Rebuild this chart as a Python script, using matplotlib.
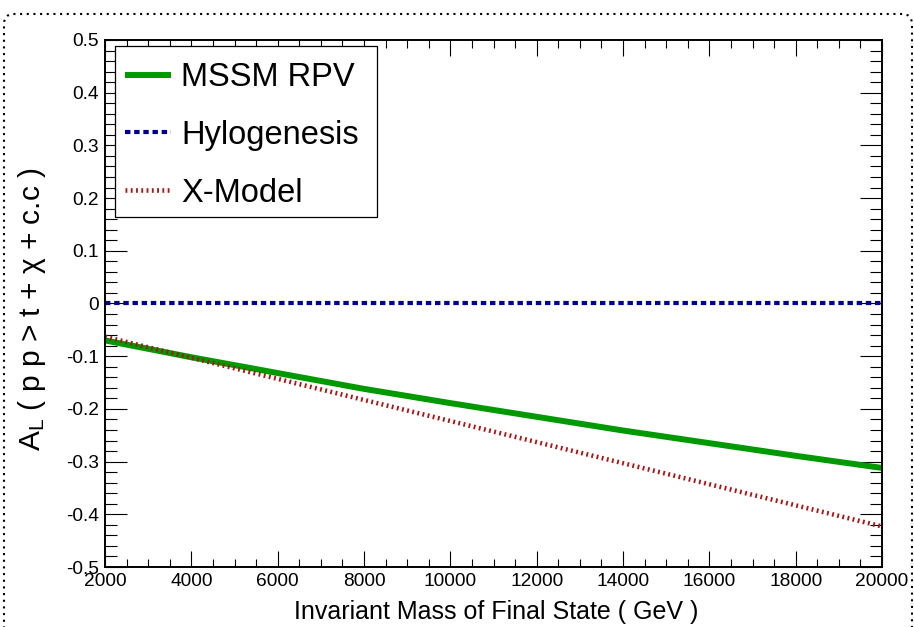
import numpy as np
import matplotlib
matplotlib.use("Agg")
import matplotlib.pyplot as plt
from matplotlib.patches import FancyBboxPatch, Rectangle
from matplotlib.transforms import IdentityTransform
from matplotlib.ticker import MultipleLocator

plt.rcParams['font.family'] = ['Liberation Sans', 'DejaVu Sans']
plt.rcParams['mathtext.default'] = 'regular'

# invariant mass (GeV)
mass = [2000, 4000, 6000, 8000, 10000, 12000, 14000, 16000, 18000, 20000]
# A_L
mssm_rpv = [-0.070, -0.102, -0.132, -0.162, -0.189, -0.215, -0.241, -0.265, -0.289, -0.312]
hylogenesis = [0.0, 0.0, 0.0, 0.0, 0.0, 0.0, 0.0, 0.0, 0.0, 0.0]
x_model = [-0.063, -0.103, -0.143, -0.183, -0.223, -0.263, -0.303, -0.343, -0.383, -0.423]

W, H = 914, 627
fig = plt.figure(figsize=(W / 100, H / 100), dpi=100)
ax = fig.add_axes([105 / W, 1 - 567 / H, 777 / W, 527 / H])

ax.plot(mass, mssm_rpv, color='#009a00', lw=4.3, solid_capstyle='butt', label='MSSM RPV')
ax.plot(mass, hylogenesis, color='#000099', lw=3.0, dashes=(1.3, 0.9),
        dash_capstyle='butt', label='Hylogenesis')
ax.plot(mass, x_model, color='#aa1414', lw=3.3, dashes=(0.4, 0.75),
        dash_capstyle='butt', label='X-Model')

ax.set_xlim(2000, 20000)
ax.set_ylim(-0.5, 0.5)
ax.xaxis.set_major_locator(MultipleLocator(2000))
ax.xaxis.set_minor_locator(MultipleLocator(500))
ax.yaxis.set_major_locator(MultipleLocator(0.1))
ax.yaxis.set_minor_locator(MultipleLocator(0.02))
ax.yaxis.set_major_formatter(lambda v, p: '0' if abs(v) < 1e-9 else ('%.1f' % v))

ax.tick_params(axis='x', which='major', direction='in', length=11.5, width=0.8,
               top=True, labelsize=13.8, pad=4.5)
ax.tick_params(axis='x', which='minor', direction='in', length=5.8, width=0.8, top=True)
ax.tick_params(axis='y', which='major', direction='in', length=16, width=0.8,
               right=True, labelsize=13.8, pad=4.5)
ax.tick_params(axis='y', which='minor', direction='in', length=8.6, width=0.8, right=True)
for sp in ax.spines.values():
    sp.set_linewidth(1.4)

# legend entries without frame, frame drawn separately
leg = ax.legend(loc='upper left', bbox_to_anchor=(0.0257, 0.958), borderaxespad=0,
                borderpad=0, fontsize=23.5, handlelength=1.4, handletextpad=0.32,
                labelspacing=0.82, frameon=False)
ax.add_patch(Rectangle((0.0129, 0.664), 0.337, 0.3245, transform=ax.transAxes,
                       fill=True, facecolor='white', edgecolor='black', lw=0.9, zorder=4))
leg.set_zorder(5)

fig.text(496 / W, 1 - 612 / H, 'Invariant Mass of Final State ( GeV )',
         fontsize=18, ha='center', va='center')
fig.text(32 / W, 1 - 309 / H, 'A$_L$ ( p p > t + χ + c.c )',
         fontsize=21.5, rotation=90, ha='center', va='center')

# dotted canvas border
border = FancyBboxPatch((4, -40), 908, H - 10 + 40 - 4,
                        boxstyle='round,pad=0,rounding_size=10',
                        transform=IdentityTransform(), fill=False,
                        edgecolor='black', lw=1.5, linestyle=(0, (1, 2.2)))
fig.patches.append(border)

fig.savefig('out.png', dpi=100)
